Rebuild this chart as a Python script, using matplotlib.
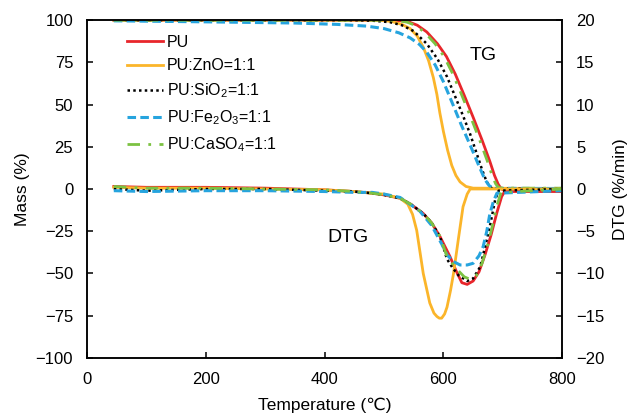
import matplotlib
matplotlib.use('Agg')
from matplotlib import pyplot as plt

# TG curves (left axis, mass %)
t_pu = [45, 300, 515, 530, 543, 556, 572, 590, 605, 620, 635, 650, 665, 678, 686, 692, 697, 703, 800]
m_pu = [100, 100, 100, 99.6, 98.8, 97, 93, 86, 78.5, 68, 55.5, 42.5, 29, 16.5, 8, 3, 0.2, -1, -1]
t_zno = [45, 300, 480, 500, 515, 530, 544, 556, 566, 575, 583, 589, 594, 600, 607, 614, 621, 628, 638, 650, 800]
m_zno = [100, 100, 100, 99.8, 99, 97.5, 95, 90.5, 84, 76, 66, 56, 45, 34, 23, 14, 8, 4.2, 1.5, 0.5, 0.3]
t_sio2 = [45, 300, 450, 480, 510, 530, 550, 572, 590, 606, 623, 634, 645, 656, 665, 672, 677, 682, 800]
m_sio2 = [100, 100, 100, 99.7, 98.8, 97, 93.5, 86, 77, 66.5, 52, 42.5, 32.5, 21, 11.5, 5, 1.8, 0.3, 0.3]
t_fe = [45, 200, 350, 420, 470, 500, 525, 544, 560, 572, 586, 600, 616, 630, 645, 660, 670, 677, 684, 800]
m_fe = [99.6, 99, 98.3, 97.5, 96.5, 95, 92.5, 89.5, 85.5, 81, 73.5, 63.5, 50, 38, 26, 13.5, 5.5, 2, 0.4, 0.3]
t_caso4 = [45, 300, 511, 526, 539, 552, 568, 586, 601, 616, 631, 646, 661, 674, 682, 688, 693, 700, 800]
m_caso4 = [100, 100, 100, 99.6, 98.8, 97, 93, 86, 78.5, 68, 55.5, 42.5, 29, 16.5, 8, 3, 0.8, 0.5, 0.5]

# DTG curves (right axis, %/min)
d_pu_t = [45, 100, 200, 300, 400, 450, 480, 500, 527, 545, 566, 580, 594, 611, 622, 631, 640, 650, 660, 670, 680, 690, 698, 703, 800]
d_pu = [0.3, 0.2, 0.2, 0.1, -0.1, -0.3, -0.5, -0.7, -1.1, -1.8, -2.9, -4.0, -5.6, -8.0, -9.8, -11.1, -11.3, -10.9, -9.8, -7.8, -5.5, -2.8, -0.9, -0.3, -0.3]
d_zno_t = [45, 100, 200, 300, 400, 450, 480, 500, 527, 540, 548, 555, 566, 577, 584, 589, 593, 597, 602, 606, 612, 617, 625, 633, 640, 645, 800]
d_zno = [0.2, 0.1, 0.1, 0.0, -0.1, -0.3, -0.5, -0.6, -1.1, -1.8, -3.0, -4.9, -10, -13.5, -14.7, -15.1, -15.3, -15.3, -14.8, -14, -12, -10, -6, -2.1, -0.6, 0, 0]
d_sio2_t = [45, 100, 200, 300, 400, 450, 480, 500, 527, 545, 566, 580, 594, 606, 615, 625, 640, 650, 662, 673, 680, 687, 693, 800]
d_sio2 = [0.0, -0.2, 0.0, 0.0, -0.2, -0.3, -0.5, -0.7, -1.1, -1.8, -2.9, -4.0, -5.6, -8.3, -9.3, -10.2, -10.9, -10.6, -9.2, -6.0, -3.8, -1.3, -0.2, 0]
d_fe_t = [45, 100, 200, 300, 400, 450, 480, 500, 527, 560, 580, 597, 606, 617, 628, 640, 650, 660, 667, 673, 678, 684, 690, 800]
d_fe = [-0.2, -0.3, -0.2, -0.2, -0.3, -0.4, -0.4, -0.6, -1.0, -2.6, -4.3, -6.5, -7.8, -8.6, -9.0, -9.0, -8.8, -7.9, -6.8, -5.0, -3.0, -1.5, -0.5, -0.2]
d_caso4_t = [45, 100, 200, 300, 400, 450, 480, 500, 527, 545, 566, 580, 594, 606, 620, 635, 645, 655, 665, 675, 683, 690, 697, 800]
d_caso4 = [0.3, 0.1, 0.1, 0.0, -0.1, -0.3, -0.5, -0.7, -1.1, -1.8, -2.9, -4.0, -5.6, -8.0, -9.3, -10.4, -10.7, -10.3, -8.8, -6.5, -4.2, -2.0, -0.4, 0]

labels = ['PU', 'PU:ZnO=1:1', 'PU:SiO$_2$=1:1', 'PU:Fe$_2$O$_3$=1:1', 'PU:CaSO$_4$=1:1']

plt.rcParams['font.family'] = ['Liberation Sans', 'DejaVu Sans']
plt.rcParams['mathtext.fontset'] = 'custom'
plt.rcParams['mathtext.rm'] = 'Liberation Sans'
plt.rcParams['mathtext.it'] = 'Liberation Sans'

fig = plt.figure(figsize=(6.31, 4.2), dpi=100)
ax = fig.add_axes([0.138, 0.148, 0.753, 0.804])
ax2 = ax.twinx()

styles = [
	dict(color='#e8262b', lw=2.0, ls='-'),
	dict(color='#fbb52a', lw=2.0, ls='-'),
	dict(color='black', lw=1.8, ls=(0, (1, 1.3))),
	dict(color='#26a4de', lw=2.2, ls=(0, (2.8, 1.4))),
	dict(color='#7cc242', lw=2.0, ls=(0, (4.5, 3, 1, 3))),
]
tg = [(t_pu, m_pu), (t_zno, m_zno), (t_sio2, m_sio2), (t_fe, m_fe), (t_caso4, m_caso4)]
dtg = [(d_pu_t, d_pu), (d_zno_t, d_zno), (d_sio2_t, d_sio2), (d_fe_t, d_fe), (d_caso4_t, d_caso4)]

handles = []
for (x, y), st, lab in zip(tg, styles, labels):
	h, = ax.plot(x, y, label=lab, **st)
	handles.append(h)
for (x, y), st in zip(dtg, styles):
	ax2.plot(x, y, **st)

ax.set_xlim(0, 800)
ax.set_ylim(-100, 100)
ax2.set_ylim(-20, 20)
ax.set_xticks([0, 200, 400, 600, 800])
ax.set_yticks([-100, -75, -50, -25, 0, 25, 50, 75, 100])
ax2.set_yticks([-20, -15, -10, -5, 0, 5, 10, 15, 20])

for a in (ax, ax2):
	a.tick_params(direction='in', length=4, width=1.1, labelsize=12, pad=10)
	for s in a.spines.values():
		s.set_linewidth(1.1)

ax.set_xlabel('Temperature (℃)', fontsize=12.5, labelpad=8)
ax.set_ylabel('Mass (%)', fontsize=12.5, labelpad=4)
ax2.set_ylabel('DTG (%/min)', fontsize=12.5, labelpad=6)

ax.text(667, 79, 'TG', fontsize=14, ha='center', va='center')
ax.text(440, -29, 'DTG', fontsize=14, ha='center', va='center')

ax2.legend(handles=handles, loc='upper left', bbox_to_anchor=(0.07, 0.975), frameon=False,
	fontsize=11.5, handlelength=2.3, handletextpad=0.2, labelspacing=0.52, borderaxespad=0)

fig.savefig('out.png', dpi=100)
